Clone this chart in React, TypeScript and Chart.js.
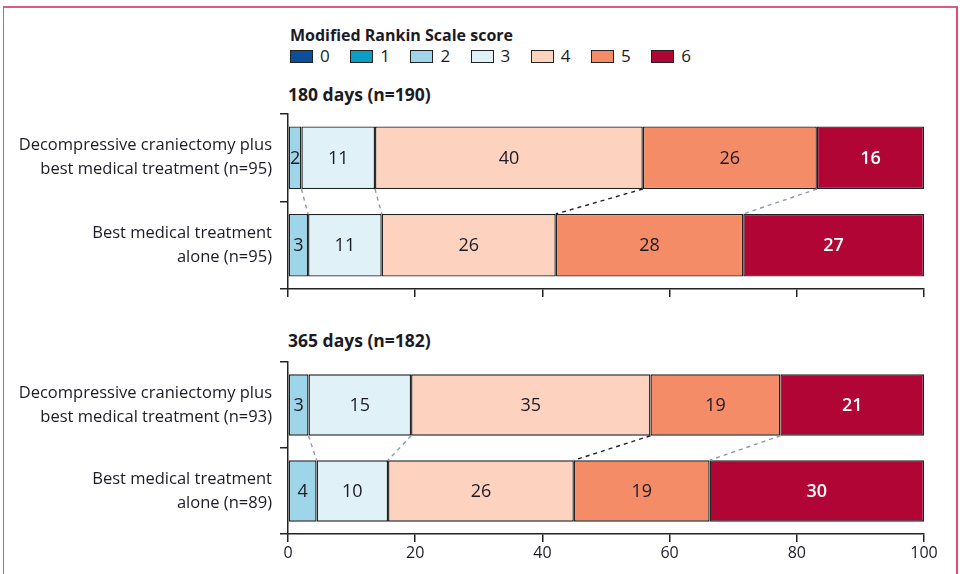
import React, { useEffect, useRef } from "react";
import { Chart, registerables } from "chart.js";

Chart.register(...registerables);

// ---------- data ----------
const scores = ["0", "1", "2", "3", "4", "5", "6"];
const scoreColors = ["#0b4f9c", "#0a9ec6", "#9fd5e8", "#e0f1f8", "#fdd3c0", "#f48c67", "#b10535"];
const labels180 = [
  ["Decompressive craniectomy plus", "best medical treatment (n=95)"],
  ["Best medical treatment", "alone (n=95)"],
];
const labels365 = [
  ["Decompressive craniectomy plus", "best medical treatment (n=93)"],
  ["Best medical treatment", "alone (n=89)"],
];
const n180 = [95, 95];
const n365 = [93, 89];
const counts180Surgery = [0, 0, 2, 11, 40, 26, 16];
const counts180Medical = [0, 0, 3, 11, 26, 28, 27];
const counts365Surgery = [0, 0, 3, 15, 35, 19, 21];
const counts365Medical = [0, 0, 4, 10, 26, 19, 30];
const xTicks = [0, 20, 40, 60, 80, 100];
const legendTitle = "Modified Rankin Scale score";
const title180 = "180 days (n=190)";
const title365 = "365 days (n=182)";

// ---------- style ----------
const FONT = "'Open Sans', 'Noto Sans', sans-serif";
const INK = "#1c1a24";
const AXIS = "#222222";
const connectorColors: Record<number, string> = { 2: "#8d9aa6", 3: "#8d9aa6", 4: "#222222", 5: "#8d9aa6" };

const labelPlugin = {
  id: "segLabels",
  afterDatasetsDraw(chart: any) {
    const ctx = chart.ctx;
    ctx.save();
    ctx.textAlign = "center";
    ctx.textBaseline = "middle";
    chart.data.datasets.forEach((ds: any, di: number) => {
      const meta = chart.getDatasetMeta(di);
      meta.data.forEach((el: any, i: number) => {
        const c = ds.counts[i];
        if (!c) return;
        const p = el.getProps(["x", "y", "base"], true);
        const cx = (p.x + p.base) / 2;
        const white = di === 6;
        ctx.fillStyle = white ? "#ffffff" : INK;
        ctx.font = `${white ? 600 : 400} 18px ${FONT}`;
        ctx.fillText(String(c), cx, p.y + 1);
      });
    });
    ctx.restore();
  },
};

const connectorPlugin = {
  id: "connectors",
  afterDatasetsDraw(chart: any) {
    const ctx = chart.ctx;
    ctx.save();
    ctx.lineWidth = 1.4;
    ctx.setLineDash([4, 4]);
    Object.keys(connectorColors).forEach((k) => {
      const di = Number(k);
      const meta = chart.getDatasetMeta(di);
      const a = meta.data[0].getProps(["x", "y", "height"], true);
      const b = meta.data[1].getProps(["x", "y", "height"], true);
      ctx.strokeStyle = connectorColors[di];
      ctx.beginPath();
      ctx.moveTo(a.x, a.y + a.height / 2);
      ctx.lineTo(b.x, b.y - b.height / 2);
      ctx.stroke();
    });
    ctx.restore();
  },
};

function makeChart(
  canvas: HTMLCanvasElement,
  labels: string[][],
  countsA: number[],
  countsB: number[],
  nArr: number[],
  showTicks: boolean,
  padTop: number,
  xAxisHeight: number
) {
  const datasets = scores.map((s, i) => ({
    label: s,
    data: [(countsA[i] / nArr[0]) * 100, (countsB[i] / nArr[1]) * 100],
    counts: [countsA[i], countsB[i]],
    backgroundColor: scoreColors[i],
    borderColor: AXIS,
    borderWidth: 1.4,
    borderSkipped: false,
    barPercentage: 0.715,
    categoryPercentage: 1,
  }));
  return new Chart(canvas, {
    type: "bar",
    data: { labels, datasets } as any,
    plugins: [labelPlugin, connectorPlugin],
    options: {
      indexAxis: "y",
      responsive: false,
      animation: false,
      layout: { padding: { top: padTop, right: 36, left: 0, bottom: 0 } },
      plugins: { legend: { display: false }, tooltip: { enabled: false } },
      scales: {
        x: {
          type: "linear",
          stacked: true,
          min: 0,
          max: 100,
          afterBuildTicks: (scale: any) => {
            scale.ticks = xTicks.map((v) => ({ value: v }));
          },
          afterFit: (scale: any) => {
            scale.height = xAxisHeight;
            scale.paddingLeft = 0;
            scale.paddingRight = 0;
          },
          ticks: { display: showTicks, color: INK, font: { family: FONT, size: 16 }, padding: 2 },
          grid: { drawOnChartArea: false, drawTicks: true, tickLength: 8, color: AXIS, lineWidth: 1.5 },
          border: { display: true, color: AXIS, width: 1.5 },
        },
        y: {
          type: "category",
          stacked: true,
          afterFit: (scale: any) => {
            scale.width = 288;
            scale.paddingTop = 0;
            scale.paddingBottom = 0;
          },
          ticks: { color: INK, font: { family: FONT, size: 16.5, lineHeight: 1.45 }, padding: 8 },
          grid: { drawOnChartArea: false, offset: true, tickLength: 8, color: AXIS, lineWidth: 1.5 },
          border: { display: true, color: AXIS, width: 1.5 },
        },
      },
    } as any,
  });
}

export default function App() {
  const ref1 = useRef<HTMLCanvasElement>(null);
  const ref2 = useRef<HTMLCanvasElement>(null);
  useEffect(() => {
    const c1 = makeChart(ref1.current!, labels180, counts180Surgery, counts180Medical, n180, false, 14, 21);
    const c2 = makeChart(ref2.current!, labels365, counts365Surgery, counts365Medical, n365, true, 12, 40);
    return () => {
      c1.destroy();
      c2.destroy();
    };
  }, []);

  const boldText: React.CSSProperties = {
    position: "absolute",
    fontFamily: FONT,
    fontWeight: 700,
    fontSize: 17.5,
    lineHeight: "20px",
    color: INK,
    whiteSpace: "nowrap",
  };

  return (
    <div style={{ position: "fixed", left: 0, top: 0, width: 960, height: 574, background: "#fff", overflow: "hidden" }}>
      <div
        style={{
          position: "absolute",
          left: 3,
          top: 6,
          width: 952,
          height: 600,
          borderLeft: "1.5px solid #d65a7c",
          borderTop: "2px solid #df5a80",
          borderRight: "2px solid #df4a76",
        }}
      />
      <div style={{ ...boldText, fontSize: 16, left: 290, top: 25 }}>{legendTitle}</div>
      <div style={{ position: "absolute", left: 290, top: 46, display: "flex", alignItems: "center" }}>
        {scores.map((s, i) => (
          <div key={s} style={{ display: "flex", alignItems: "center", width: 60.2 }}>
            <span
              style={{
                display: "inline-block",
                width: 21,
                height: 11,
                background: scoreColors[i],
                border: `1px solid ${AXIS}`,
              }}
            />
            <span style={{ marginLeft: 7, fontFamily: FONT, fontSize: 17, color: INK, lineHeight: "20px" }}>{s}</span>
          </div>
        ))}
      </div>
      <div style={{ ...boldText, left: 288, top: 84 }}>{title180}</div>
      <div style={{ ...boldText, left: 288, top: 330 }}>{title365}</div>
      <canvas ref={ref1} width={960} height={210} style={{ position: "absolute", left: 0, top: 100 }} />
      <canvas ref={ref2} width={960} height={224} style={{ position: "absolute", left: 0, top: 350 }} />
    </div>
  );
}
